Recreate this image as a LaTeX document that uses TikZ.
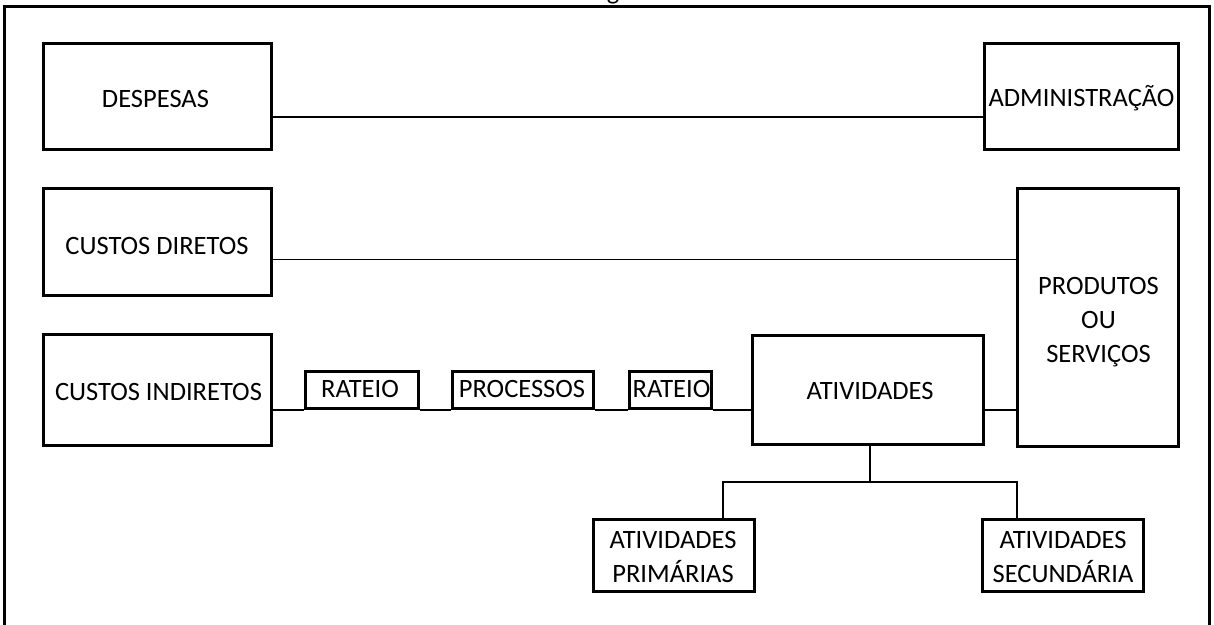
\documentclass[tikz,border=0pt]{standalone}
\usepackage{fontspec}
\setmainfont{Carlito}
\begin{document}
\begin{tikzpicture}[x=1pt,y=-1pt,
  bx/.style={draw,line width=3pt,inner sep=0pt},
  tx/.style={anchor=base,inner sep=0pt,font=\fontsize{26.5}{32}\selectfont},
  ln/.style={line width=1.5pt},
  tl/.style={line width=2pt}]
\useasboundingbox (0,0) rectangle (1214,624);
\node[tx] (g) at (613,-1) {g};
\draw[line width=3pt] (4,640) -- (4,6) -- (1209,6) -- (1209,640);
% boxes
\node[bx,minimum width=228,minimum height=105.5] (desp) at (157.4,96.3) {};
\node[bx,minimum width=228,minimum height=107] (cd) at (157.4,241.5) {};
\node[bx,minimum width=228,minimum height=110.6] (ci) at (157.4,390) {};
\node[bx,minimum width=194.5,minimum height=105.5] (adm) at (1081.7,96.3) {};
\node[bx,minimum width=161,minimum height=258] (prod) at (1097.5,317) {};
\node[bx,minimum width=113.3,minimum height=37.3] (r1) at (361.7,389.7) {};
\node[bx,minimum width=141,minimum height=37.3] (proc) at (522.8,389.7) {};
\node[bx,minimum width=82.4,minimum height=37.3] (r2) at (670.5,389.7) {};
\node[bx,minimum width=230.6,minimum height=109] (ativ) at (868,389.5) {};
\node[bx,minimum width=161,minimum height=72] (prim) at (674.2,555.3) {};
\node[bx,minimum width=160.7,minimum height=72] (sec) at (1063.3,555.3) {};
% texts
\node[tx] (t-desp) at (155.5,107) {DESPESAS};
\node[tx] (t-adm) at (1081.5,106.5) {ADMINISTRAÇÃO};
\node[tx] (t-cd) at (157,254) {CUSTOS DIRETOS};
\node[tx] (t-ci) at (158.5,400) {CUSTOS INDIRETOS};
\node[tx] (t-p1) at (1098.5,294) {PRODUTOS};
\node[tx] (t-p2) at (1098.5,328) {OU};
\node[tx] (t-p3) at (1098.5,362) {SERVIÇOS};
\node[tx] (t-r1) at (360,397) {RATEIO};
\node[tx] (t-proc) at (522,397) {PROCESSOS};
\node[tx] (t-r2) at (671.5,397) {RATEIO};
\node[tx] (t-ativ) at (870,399) {ATIVIDADES};
\node[tx] (t-pr1) at (673,548) {ATIVIDADES};
\node[tx] (t-pr2) at (673,582) {PRIMÁRIAS};
\node[tx] (t-se1) at (1063,548) {ATIVIDADES};
\node[tx] (t-se2) at (1063,582) {SECUNDÁRIA};
% connectors
\draw[ln] (desp.east |- 0,117) -- (adm.west |- 0,117);
\draw[ln] (cd.east |- 0,259.5) -- (prod.west |- 0,259.5);
\draw[ln] (ci.east |- r1.south) -- (r1.south west);
\draw[ln] (r1.south east) -- (proc.south west);
\draw[ln] (proc.south east) -- (r2.south west);
\draw[ln] (r2.south east) -- (ativ.west |- r2.south);
\draw[ln] (ativ.east |- r2.south) -- (prod.west |- r2.south);
\coordinate (j) at (870.3,482.3);
\draw[tl] (ativ.south -| j) -- (j);
\draw[tl] (prim.north -| 722.7,0) |- (j);
\draw[tl] (sec.north -| 1017,0) |- (j);
\end{tikzpicture}
\end{document}
